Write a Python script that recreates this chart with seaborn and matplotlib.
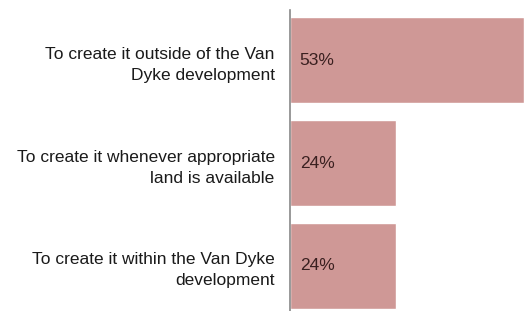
import matplotlib
matplotlib.use("Agg")
import matplotlib.pyplot as plt
import seaborn as sns
import pandas as pd

categories = [
    "To create it outside of the Van\nDyke development",
    "To create it whenever appropriate\nland is available",
    "To create it within the Van Dyke\ndevelopment",
]
values = [53, 24, 24]
value_labels = ["53%", "24%", "24%"]

sns.set_style("white")
plt.rcParams['font.family'] = ['Liberation Sans', 'DejaVu Sans']

df = pd.DataFrame({"option": categories, "pct": values})

fig = plt.figure(figsize=(5.24, 3.11), dpi=100)
ax = fig.add_axes([290 / 524, 0, 234 / 524, 301 / 311])

sns.barplot(data=df, y="option", x="pct", color="#cf9896", width=0.84,
            saturation=1, ax=ax, orient="h")

ax.set_xlim(0, 53)
ax.set_ylim(2.44, -0.49)
ax.set_xlabel("")
ax.set_ylabel("")
ax.set_xticks([])
ax.tick_params(axis="y", length=0, pad=11, labelsize=12.5, labelcolor="#1a1a1a")
for t in ax.get_yticklabels():
    t.set_multialignment("right")
    t.set_linespacing(1.5)

for side in ["top", "right", "bottom"]:
    ax.spines[side].set_visible(False)
ax.spines["left"].set_color("#888888")
ax.spines["left"].set_linewidth(1.2)

for i, lab in enumerate(value_labels):
    ax.text(2.2, i, lab, va="center", ha="left", fontsize=12.5, color="#3a2020")

fig.savefig("out.png", dpi=100)
